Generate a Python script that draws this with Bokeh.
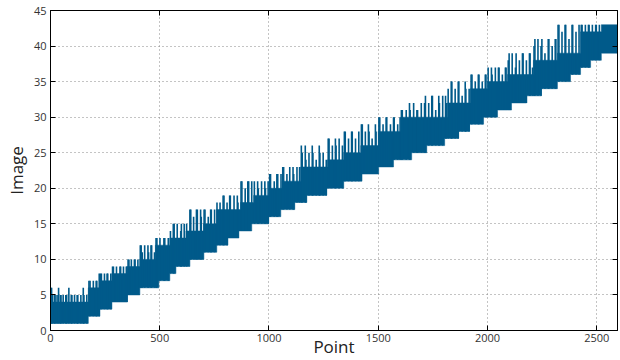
from bokeh.plotting import figure
from bokeh.models import ColumnDataSource, LinearAxis, Range1d, FixedTicker
from bokeh.embed import file_html
from bokeh.resources import INLINE

# ---- data ----
n_points = 2595

# lower edge of the band: point index where each level starts
low_start = [0, 173, 226, 281, 352, 409, 496, 546, 574, 638, 702, 761, 812, 862,
             921, 999, 1054, 1118, 1173, 1264, 1342, 1424, 1502, 1570, 1653, 1722,
             1804, 1868, 1918, 1982, 2046, 2110, 2179, 2247, 2320, 2380, 2426, 2472, 2521]
low_value = [1, 2, 3, 4, 5, 6, 7, 8, 9, 10, 11, 12, 13, 14, 15, 16, 17, 18, 19, 20,
             21, 22, 23, 24, 25, 26, 27, 28, 29, 30, 31, 32, 33, 34, 35, 36, 37, 38, 39]

# upper edge of the solid part of the band
top_start = [0, 173, 226, 281, 352, 409, 480, 546, 620, 700, 760, 870, 930, 1000,
             1060, 1145, 1268, 1342, 1420, 1500, 1603, 1817, 1922, 2000, 2092, 2210,
             2320, 2426, 2521]
top_value = [4, 6, 7, 8, 9, 10, 12, 13, 14, 15, 17, 18, 19, 20,
             21, 23, 24, 25, 26, 28, 30, 32, 34, 35, 36, 38,
             39, 42, 43]

# thin spikes above the solid part (point index, image value)
spike_x = [2, 5, 9, 18, 21, 30, 37, 45, 48, 58, 70, 74, 84, 95, 98, 110, 122, 125,
           139, 150, 153, 166,
           176, 181, 196, 209, 212, 223,
           229, 233, 247, 259, 262, 276,
           284, 288, 302, 318, 321, 334, 347, 350,
           355, 359, 370, 384, 387, 400,
           411, 415, 420, 431, 446, 449, 460, 463, 476,
           483, 487, 501, 519, 523, 539,
           549, 562, 566, 580, 596, 599, 612,
           623, 638, 642, 655, 668, 672, 687, 690,
           703, 707, 722, 733, 736, 751,
           762, 776, 790, 794, 808, 820, 823, 840, 855, 858,
           872, 876, 891, 903, 907, 921,
           933, 948, 951, 966, 981, 984, 996,
           1003, 1007, 1024, 1036, 1040, 1055,
           1063, 1067, 1082, 1095, 1110, 1113, 1128, 1140,
           1148, 1152, 1166, 1169, 1183, 1198, 1201, 1216, 1230, 1233, 1248, 1262,
           1271, 1275, 1290, 1304, 1307, 1321, 1336,
           1345, 1349, 1364, 1378, 1381, 1396, 1411,
           1423, 1427, 1441, 1455, 1458, 1472, 1487, 1490,
           1503, 1507, 1522, 1536, 1539, 1556, 1570, 1573, 1589, 1600,
           1606, 1610, 1628, 1643, 1646, 1662, 1677, 1680,
           1697, 1712, 1716, 1731, 1745, 1748, 1763, 1777, 1780, 1795, 1808, 1811,
           1820, 1834, 1837, 1852, 1866, 1869, 1884, 1898, 1901, 1916,
           1925, 1929, 1944, 1958, 1961, 1976, 1990, 1993,
           2003, 2018, 2021, 2036, 2050, 2053, 2068, 2082, 2085,
           2095, 2099, 2113, 2128, 2131, 2146, 2160, 2163, 2178, 2192, 2195, 2206,
           2213, 2217, 2231, 2245, 2249, 2263, 2278, 2281, 2296, 2310, 2313,
           2323, 2327, 2341, 2355, 2358, 2373, 2387, 2390, 2405, 2419,
           2429, 2433, 2448, 2462, 2465, 2480, 2495, 2498, 2512]
spike_top = [6, 6, 5, 5, 5, 5, 6, 5, 5, 5, 5, 5, 6, 5, 5, 5, 5, 5,
             5, 6, 5, 5,
             7, 7, 7, 7, 7, 8,
             8, 8, 8, 8, 8, 8,
             9, 9, 9, 9, 9, 9, 9, 9,
             10, 10, 10, 10, 10, 10,
             12, 12, 11, 12, 12, 11, 12, 12, 11,
             13, 13, 13, 13, 13, 13,
             14, 15, 15, 15, 14, 15, 15,
             15, 17, 17, 16, 17, 17, 17, 16,
             17, 17, 16, 17, 17, 17,
             18, 18, 19, 19, 18, 19, 19, 19, 19, 18,
             21, 21, 20, 21, 21, 21,
             21, 21, 20, 21, 21, 20, 21,
             22, 22, 21, 22, 22, 22,
             23, 23, 22, 23, 23, 22, 23, 23,
             26, 25, 26, 24, 25, 26, 25, 24, 26, 25, 25, 24,
             27, 27, 26, 27, 26, 27, 26,
             28, 28, 27, 28, 28, 27, 28,
             29, 29, 28, 29, 28, 27, 29, 28,
             30, 30, 29, 30, 30, 29, 30, 30, 29, 30,
             31, 31, 31, 32, 31, 32, 31, 31,
             32, 32, 33, 32, 33, 33, 31, 33, 32, 33, 33, 32,
             34, 35, 35, 34, 35, 35, 33, 35, 34, 34,
             36, 36, 35, 36, 36, 35, 36, 36,
             37, 37, 36, 37, 37, 37, 36, 37, 37,
             38, 39, 39, 37, 39, 38, 39, 39, 38, 39, 39, 37,
             40, 41, 41, 40, 41, 39, 41, 41, 40, 41, 41,
             43, 43, 42, 43, 43, 41, 43, 43, 42, 43,
             43, 43, 43, 43, 43, 43, 43, 43, 43]

x_ticks = [0, 500, 1000, 1500, 2000, 2500]
y_ticks = [0, 5, 10, 15, 20, 25, 30, 35, 40, 45]

COLOR = "#005a8a"


def level_at(starts, values, x):
    v = values[0]
    for s, val in zip(starts, values):
        if s <= x:
            v = val
    return v


# one polygon for the solid body of the band
breaks = sorted(set(low_start + top_start + [n_points]))
upper_x, upper_y, lower_x, lower_y = [], [], [], []
for a, b in zip(breaks[:-1], breaks[1:]):
    t = level_at(top_start, top_value, a)
    lo = level_at(low_start, low_value, a)
    upper_x += [a, b]
    upper_y += [t, t]
    lower_x += [a, b]
    lower_y += [lo, lo]
poly_x = upper_x + lower_x[::-1]
poly_y = upper_y + lower_y[::-1]

spikes = ColumnDataSource(dict(
    x=spike_x,
    y0=[level_at(low_start, low_value, x) for x in spike_x],
    y1=spike_top))

p = figure(width=620, height=360, output_backend="svg", toolbar_location=None,
           x_range=Range1d(0, n_points), y_range=Range1d(0, 45),
           min_border_left=50, min_border_right=3, min_border_top=10,
           min_border_bottom=28)

p.patch(poly_x, poly_y, fill_color=COLOR, line_color=COLOR, line_width=0.5)
p.segment(x0="x", y0="y0", x1="x", y1="y1", source=spikes,
          line_color=COLOR, line_width=1.6)

p.outline_line_color = "black"
p.outline_line_width = 1
p.background_fill_color = "white"
p.border_fill_color = "white"

for ax in (p.xaxis[0], p.yaxis[0]):
    ax.major_tick_in = 5
    ax.major_tick_out = 0
    ax.minor_tick_line_color = None
    ax.axis_line_color = "black"
    ax.major_tick_line_color = "black"
    ax.major_label_text_font = "Open Sans"
    ax.major_label_text_font_size = "11px"
    ax.major_label_text_color = "#333333"
    ax.axis_label_text_font = "Open Sans"
    ax.axis_label_text_font_size = "17px"
    ax.axis_label_text_font_style = "normal"
    ax.axis_label_text_color = "#222222"
p.xaxis[0].ticker = FixedTicker(ticks=x_ticks)
p.yaxis[0].ticker = FixedTicker(ticks=y_ticks)
p.xaxis[0].major_label_standoff = 3
p.yaxis[0].major_label_standoff = 4
p.xaxis[0].axis_label = "Point"
p.yaxis[0].axis_label = "Image"
p.xaxis[0].axis_label_standoff = -10
p.yaxis[0].axis_label_standoff = 3

for loc, tick in (("above", x_ticks), ("right", y_ticks)):
    ax = LinearAxis(ticker=FixedTicker(ticks=tick))
    ax.major_tick_in = 5
    ax.major_tick_out = 0
    ax.minor_tick_line_color = None
    ax.major_label_text_font_size = "0px"
    ax.major_label_standoff = 0
    ax.major_label_text_alpha = 0
    p.add_layout(ax, loc)

p.xgrid.ticker = FixedTicker(ticks=x_ticks)
p.ygrid.ticker = FixedTicker(ticks=y_ticks)
for g in (p.xgrid[0], p.ygrid[0]):
    g.grid_line_color = "#888888"
    g.grid_line_dash = "1 3"
    g.grid_line_width = 1

open("out.html", "w").write(file_html(p, INLINE))
